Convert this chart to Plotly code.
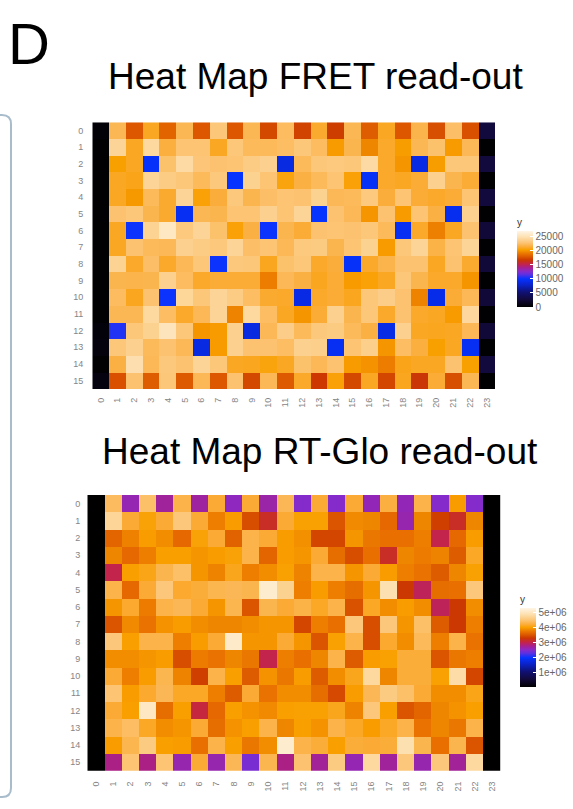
import numpy as np
import plotly.graph_objects as go

cols = list(range(24))
rows = list(range(16))
col_labels = [str(c) for c in cols]
row_labels = [str(r) for r in rows]

fret_row00 = [300, 22000, 17800, 21000, 18300, 22000, 17800, 23000, 17800, 22000, 17300, 22300, 17100, 21200, 16900, 22000, 18000, 21000, 17800, 21800, 17500, 22500, 17600, 2700]
fret_row01 = [200, 24000, 21000, 24300, 21500, 22800, 22800, 21000, 23000, 22200, 22200, 22400, 23000, 22300, 20200, 21900, 19500, 21100, 20300, 22000, 22600, 20200, 22100, 200]
fret_row02 = [200, 20400, 21000, 9800, 22600, 24400, 22900, 22700, 22800, 23400, 23700, 8800, 22200, 23000, 23200, 23000, 24400, 21100, 20000, 8900, 20300, 23000, 23000, 2700]
fret_row03 = [200, 21000, 20800, 24000, 23400, 23000, 22200, 23100, 10000, 23800, 22800, 20600, 21600, 22200, 22800, 20500, 9600, 21100, 21000, 21300, 23700, 21900, 21300, 200]
fret_row04 = [200, 21000, 20100, 22200, 21200, 24000, 20500, 21400, 23100, 21900, 22500, 22800, 22700, 23800, 22100, 22200, 23200, 21400, 22800, 21300, 21100, 21300, 22800, 2700]
fret_row05 = [200, 22700, 23000, 21900, 21200, 9500, 22000, 21900, 22800, 22800, 23700, 22800, 24000, 10000, 22700, 22100, 20000, 22700, 20200, 22800, 21600, 9300, 23700, 200]
fret_row06 = [200, 21000, 10100, 23900, 25600, 23200, 24000, 22600, 20500, 21600, 10100, 21900, 21300, 22700, 22800, 22700, 23000, 22200, 9500, 21100, 19300, 21000, 22700, 2500]
fret_row07 = [200, 21000, 22700, 22200, 22100, 23700, 23400, 23100, 24000, 22500, 22800, 22100, 23200, 23300, 21900, 22800, 23800, 20200, 23000, 24000, 21700, 22800, 24000, 200]
fret_row08 = [200, 23900, 21100, 22500, 21100, 22100, 23000, 10100, 23100, 23000, 20900, 22600, 23000, 21100, 21400, 9700, 21100, 21800, 22700, 22700, 21000, 22700, 21200, 2500]
fret_row09 = [100, 21900, 21800, 21900, 23700, 22300, 21100, 21300, 21300, 21300, 19200, 22100, 21600, 20900, 21300, 20200, 20500, 21000, 23000, 21900, 21100, 21100, 20000, 200]
fret_row10 = [200, 22300, 20900, 22700, 10100, 24100, 23000, 24000, 23400, 22400, 21200, 21100, 8900, 21100, 21300, 20900, 23000, 23500, 22700, 19400, 9100, 21300, 22100, 2500]
fret_row11 = [100, 22000, 22000, 24300, 22400, 21100, 22100, 24000, 19400, 24300, 22400, 21000, 20000, 21300, 23700, 21900, 23000, 21100, 22700, 21100, 21000, 20200, 24200, 200]
fret_row12 = [500, 10500, 23000, 23800, 25300, 23000, 20000, 20200, 23700, 8800, 22100, 23500, 22200, 23100, 23300, 22200, 21600, 9000, 23700, 21000, 20900, 21000, 22100, 2500]
fret_row13 = [600, 23000, 23700, 22200, 22700, 22100, 8800, 20200, 23700, 22700, 22700, 22400, 23700, 23600, 9500, 22800, 23600, 20000, 22400, 21500, 20400, 21000, 9500, 200]
fret_row14 = [200, 21600, 24800, 22100, 23100, 22700, 24000, 23000, 21000, 20900, 20600, 21000, 22600, 22100, 22700, 20200, 19900, 19200, 20800, 21000, 21000, 22700, 20400, 2700]
fret_row15 = [700, 17600, 22700, 18000, 23000, 17900, 22100, 17800, 22700, 17300, 22100, 17900, 21100, 16700, 20500, 17300, 21000, 17200, 20900, 16600, 21300, 17500, 22000, 200]

rt_row00 = [0, 4.4, 2.6, 4.45, 2.7, 4.3, 2.68, 4.2, 2.55, 4.2, 2.65, 4.35, 2.48, 4.2, 2.48, 4.2, 2.58, 4.25, 2.58, 4.3, 2.48, 4.0, 2.48, 0]
rt_row01 = [0, 4.75, 4.2, 4.05, 4.2, 4.55, 4.2, 3.8, 4.0, 3.45, 3.15, 4.2, 4.03, 4.03, 3.5, 3.88, 3.85, 3.65, 2.62, 3.85, 3.35, 3.15, 3.85, 0]
rt_row02 = [0, 3.62, 3.82, 4.0, 3.9, 3.65, 4.05, 4.2, 3.6, 4.3, 4.2, 4.0, 3.92, 3.4, 3.4, 3.95, 3.75, 3.7, 3.7, 3.8, 3.0, 3.65, 4.0, 0]
rt_row03 = [0, 3.85, 3.65, 3.8, 4.02, 4.02, 3.95, 4.0, 4.05, 4.3, 3.62, 4.0, 3.95, 4.2, 3.68, 3.45, 3.7, 3.15, 3.85, 3.78, 3.83, 3.55, 4.15, 0]
rt_row04 = [0, 3.0, 4.02, 4.1, 4.32, 4.45, 3.95, 3.83, 4.12, 3.8, 3.9, 4.03, 3.83, 4.3, 4.3, 3.95, 4.2, 4.0, 3.8, 3.72, 3.55, 3.85, 4.03, 0]
rt_row05 = [0, 4.3, 3.65, 4.2, 4.55, 4.18, 4.22, 4.33, 4.35, 4.32, 5.15, 4.7, 3.8, 4.0, 3.8, 3.68, 3.95, 4.9, 3.3, 2.95, 3.68, 3.7, 4.55, 0]
rt_row06 = [0, 3.95, 4.18, 3.78, 4.3, 4.35, 4.2, 3.95, 4.33, 3.5, 4.32, 4.2, 4.28, 4.15, 4.3, 3.48, 4.15, 3.9, 4.0, 3.9, 2.95, 3.3, 3.9, 0]
rt_row07 = [0, 3.5, 3.88, 3.72, 3.93, 4.0, 3.9, 3.85, 3.85, 3.9, 3.95, 3.95, 3.4, 3.8, 3.7, 4.55, 3.45, 4.55, 3.95, 4.45, 3.55, 3.3, 3.8, 0]
rt_row08 = [0, 4.55, 4.02, 4.3, 4.3, 3.8, 4.0, 4.2, 5.1, 3.95, 3.95, 4.2, 3.95, 3.5, 4.03, 4.3, 3.45, 4.18, 3.9, 4.38, 3.8, 4.3, 3.72, 0]
rt_row09 = [0, 3.9, 3.9, 3.95, 4.0, 3.45, 3.78, 3.72, 3.85, 3.75, 3.0, 3.8, 3.7, 3.85, 4.3, 3.55, 4.0, 4.03, 4.22, 4.22, 3.5, 3.75, 3.8, 0]
rt_row10 = [0, 4.2, 3.8, 4.0, 4.33, 3.83, 3.35, 4.3, 4.02, 3.55, 3.93, 3.75, 4.0, 3.55, 3.9, 4.12, 4.8, 3.85, 4.22, 4.22, 4.03, 4.85, 3.4, 0]
rt_row11 = [0, 4.5, 4.0, 4.18, 4.35, 4.15, 4.15, 3.8, 3.55, 4.2, 3.72, 3.9, 3.9, 3.68, 3.42, 4.0, 4.35, 4.6, 4.45, 4.2, 3.9, 3.9, 4.1, 0]
rt_row12 = [0, 4.2, 4.02, 5.05, 3.68, 4.02, 3.05, 3.65, 4.02, 3.93, 3.88, 4.02, 4.03, 4.03, 4.12, 3.83, 4.55, 4.02, 3.5, 3.62, 3.85, 3.93, 4.02, 0]
rt_row13 = [0, 4.3, 4.42, 4.15, 3.9, 3.95, 4.2, 3.68, 3.93, 4.02, 4.3, 3.85, 4.02, 3.93, 4.3, 4.15, 4.0, 4.15, 4.3, 3.72, 3.85, 3.75, 4.3, 0]
rt_row14 = [0, 4.0, 4.33, 4.6, 4.02, 4.0, 3.7, 4.3, 4.02, 3.75, 3.9, 5.15, 4.3, 4.22, 4.02, 4.22, 4.2, 4.22, 4.9, 4.32, 3.7, 4.32, 3.5, 0]
rt_row15 = [0, 2.8, 4.5, 2.8, 4.5, 2.62, 4.2, 2.62, 4.35, 2.42, 4.33, 2.8, 4.48, 2.72, 4.6, 2.6, 4.8, 2.7, 4.55, 2.62, 4.55, 2.72, 4.8, 0]

fret = [fret_row00, fret_row01, fret_row02, fret_row03, fret_row04, fret_row05, fret_row06, fret_row07,
        fret_row08, fret_row09, fret_row10, fret_row11, fret_row12, fret_row13, fret_row14, fret_row15]
rt_millions = [rt_row00, rt_row01, rt_row02, rt_row03, rt_row04, rt_row05, rt_row06, rt_row07,
               rt_row08, rt_row09, rt_row10, rt_row11, rt_row12, rt_row13, rt_row14, rt_row15]
rtglo = (np.array(rt_millions) * 1e6).tolist()

fret_ticks = [0, 5000, 10000, 15000, 20000, 25000]
fret_ticktext = ["0", "5000", "10000", "15000", "20000", "25000"]
rt_ticks = [1e6, 2e6, 3e6, 4e6, 5e6]
rt_ticktext = ["1e+06", "2e+06", "3e+06", "4e+06", "5e+06"]

W, H = 573, 809
def px(x):
    return x / W
def py(y):
    return 1 - y / H

scale = [
    [0.0, "#000000"],
    [0.10, "#120a3c"],
    [0.19, "#101070"],
    [0.30, "#0a24d0"],
    [0.37, "#0533ff"],
    [0.43, "#6030e0"],
    [0.47, "#8a2ac8"],
    [0.52, "#a8208c"],
    [0.565, "#c42448"],
    [0.62, "#cc3800"],
    [0.66, "#dc5800"],
    [0.695, "#e87000"],
    [0.725, "#f08800"],
    [0.755, "#f9a000"],
    [0.79, "#fbac38"],
    [0.845, "#fcc474"],
    [0.92, "#fde0b0"],
    [1.0, "#fff5e6"],
]

FONT = "Liberation Sans, Arial, sans-serif"
tickfont = dict(family=FONT, size=9, color="#858585")

fig = go.Figure()
fig.add_trace(go.Heatmap(z=fret, x=cols, y=rows, coloraxis="coloraxis", xaxis="x", yaxis="y",
                         hoverinfo="skip"))
fig.add_trace(go.Heatmap(z=rtglo, x=cols, y=rows, coloraxis="coloraxis2", xaxis="x2", yaxis="y2",
                         hoverinfo="skip"))

axis_common = dict(showgrid=False, zeroline=False, showline=False, ticks="", tickfont=tickfont,
                   automargin=False)

fig.update_layout(
    width=W, height=H,
    margin=dict(l=0, r=0, t=0, b=0, autoexpand=False),
    paper_bgcolor="white", plot_bgcolor="white",
    showlegend=False,
    font=dict(family=FONT),
    xaxis=dict(domain=[px(92.3), px(495)], range=[-0.5, 23.5], tickvals=cols, ticktext=col_labels,
               tickangle=-90, anchor="y", ticklabelstandoff=6, **axis_common),
    yaxis=dict(domain=[py(389), py(122.3)], range=[15.5, -0.5], tickvals=rows, ticktext=row_labels,
               anchor="x", ticklabelstandoff=8, **axis_common),
    xaxis2=dict(domain=[px(87.3), px(500.7)], range=[-0.5, 23.5], tickvals=cols, ticktext=col_labels,
                tickangle=-90, anchor="y2", ticklabelstandoff=8, **axis_common),
    yaxis2=dict(domain=[py(770.7), py(495)], range=[15.5, -0.5], tickvals=rows, ticktext=row_labels,
                anchor="x2", ticklabelstandoff=6, **axis_common),
    coloraxis=dict(colorscale=scale, cmin=0, cmax=27000,
                   colorbar=dict(x=px(517), xanchor="left", y=py(261), yanchor="middle",
                                 lenmode="pixels", len=92, thickness=16, outlinewidth=0, xpad=0, ypad=0,
                                 tickvals=fret_ticks, ticktext=fret_ticktext, ticks="inside", ticklen=3,
                                 tickcolor="white",
                                 tickfont=dict(family=FONT, size=10, color="#666666"),
                                 title=dict(text="y", side="top", font=dict(family=FONT, size=10, color="#333333")))),
    coloraxis2=dict(colorscale=scale, cmin=0, cmax=5.33e6,
                    colorbar=dict(x=px(520), xanchor="left", y=py(639.5), yanchor="middle",
                                  lenmode="pixels", len=95, thickness=16, outlinewidth=0, xpad=0, ypad=0,
                                  tickvals=rt_ticks, ticktext=rt_ticktext, ticks="inside", ticklen=3,
                                  tickcolor="white",
                                  tickfont=dict(family=FONT, size=10, color="#666666"),
                                  title=dict(text="y", side="top", font=dict(family=FONT, size=10, color="#333333")))),
)

fig.add_annotation(text="D", x=px(6), y=py(78), xref="paper", yref="paper", xanchor="left", yanchor="bottom",
                   showarrow=False, font=dict(family=FONT, size=58, color="black"))
fig.add_annotation(text="Heat Map FRET read-out", x=px(315), y=py(99), xref="paper", yref="paper",
                   xanchor="center", yanchor="bottom", showarrow=False,
                   font=dict(family=FONT, size=37, color="black"))
fig.add_annotation(text="Heat Map RT-Glo read-out", x=px(320), y=py(474), xref="paper", yref="paper",
                   xanchor="center", yanchor="bottom", showarrow=False,
                   font=dict(family=FONT, size=37, color="black"))

# left panel frame (rounded border partially visible)
r = 9
x0, x1, yt, yb = -20, 11, 115, 797
path = (f"M {px(x0)},{py(yt)} L {px(x1 - r)},{py(yt)} Q {px(x1)},{py(yt)} {px(x1)},{py(yt + r)} "
        f"L {px(x1)},{py(yb - r)} Q {px(x1)},{py(yb)} {px(x1 - r)},{py(yb)} L {px(x0)},{py(yb)}")
fig.add_shape(type="path", path=path, xref="paper", yref="paper",
              line=dict(color="#a9bccb", width=2))

fig.write_html("out.html", config={"displayModeBar": False},
               post_script="document.body.style.margin='0';document.body.style.overflow='hidden';")
